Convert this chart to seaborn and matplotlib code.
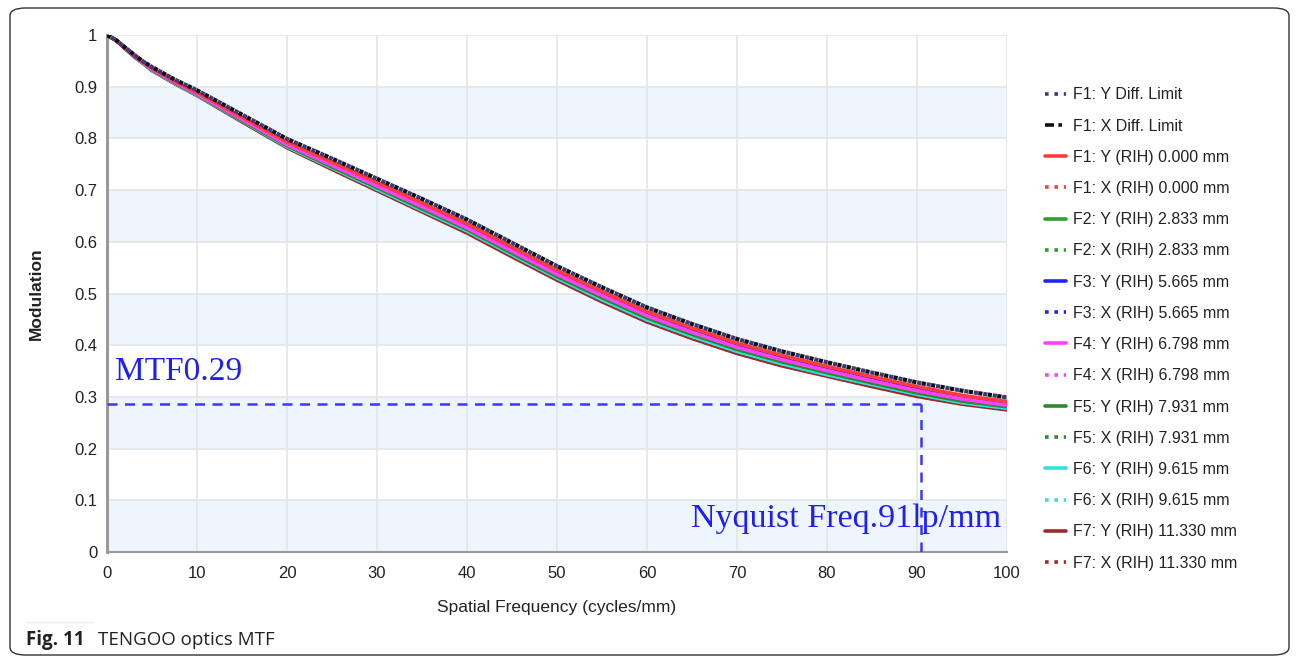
import matplotlib
matplotlib.use("Agg")
import matplotlib.pyplot as plt
import seaborn as sns
import pandas as pd
from matplotlib.patches import FancyBboxPatch
from matplotlib.lines import Line2D

# ---------------- data ----------------
freq = [0, 1, 2, 3, 4, 5, 7.5, 10, 15, 20, 25, 30, 35, 40, 45, 50, 55, 60, 65, 70, 75, 80, 85, 90, 95, 100]
diff_limit = [1.000, 0.990, 0.976, 0.962, 0.949, 0.938, 0.914, 0.893, 0.846, 0.799, 0.761, 0.722, 0.683, 0.643,
              0.598, 0.553, 0.512, 0.473, 0.441, 0.412, 0.388, 0.367, 0.347, 0.328, 0.312, 0.299]
f1 = [1.000, 0.990, 0.975, 0.961, 0.948, 0.936, 0.911, 0.889, 0.841, 0.793, 0.754, 0.715, 0.675, 0.635,
      0.590, 0.545, 0.504, 0.465, 0.433, 0.404, 0.380, 0.359, 0.339, 0.320, 0.303, 0.291]
f2 = [1.000, 0.990, 0.975, 0.960, 0.947, 0.935, 0.910, 0.888, 0.839, 0.791, 0.751, 0.712, 0.672, 0.632,
      0.587, 0.542, 0.501, 0.462, 0.430, 0.401, 0.377, 0.356, 0.336, 0.317, 0.300, 0.288]
f3 = [1.000, 0.990, 0.975, 0.960, 0.947, 0.935, 0.909, 0.887, 0.838, 0.789, 0.749, 0.710, 0.670, 0.629,
      0.584, 0.539, 0.498, 0.459, 0.427, 0.398, 0.374, 0.353, 0.333, 0.314, 0.298, 0.286]
f4 = [1.000, 0.990, 0.975, 0.960, 0.946, 0.934, 0.909, 0.886, 0.837, 0.788, 0.748, 0.708, 0.668, 0.627,
      0.582, 0.537, 0.496, 0.457, 0.425, 0.396, 0.372, 0.351, 0.331, 0.312, 0.296, 0.284]
f5 = [1.000, 0.990, 0.974, 0.959, 0.946, 0.933, 0.908, 0.885, 0.835, 0.786, 0.745, 0.705, 0.664, 0.624,
      0.578, 0.533, 0.492, 0.453, 0.421, 0.392, 0.368, 0.347, 0.327, 0.308, 0.292, 0.281]
f6 = [1.000, 0.990, 0.974, 0.959, 0.945, 0.932, 0.907, 0.884, 0.834, 0.784, 0.743, 0.702, 0.661, 0.621,
      0.575, 0.530, 0.488, 0.449, 0.417, 0.388, 0.364, 0.343, 0.324, 0.305, 0.289, 0.278]
f7 = [1.000, 0.990, 0.974, 0.958, 0.945, 0.931, 0.906, 0.883, 0.832, 0.782, 0.740, 0.699, 0.658, 0.617,
      0.571, 0.526, 0.484, 0.445, 0.413, 0.384, 0.360, 0.340, 0.320, 0.301, 0.286, 0.275]

series_labels = ["F1: Y Diff. Limit", "F1: X Diff. Limit",
                 "F1: Y (RIH) 0.000 mm", "F1: X (RIH) 0.000 mm",
                 "F2: Y (RIH) 2.833 mm", "F2: X (RIH) 2.833 mm",
                 "F3: Y (RIH) 5.665 mm", "F3: X (RIH) 5.665 mm",
                 "F4: Y (RIH) 6.798 mm", "F4: X (RIH) 6.798 mm",
                 "F5: Y (RIH) 7.931 mm", "F5: X (RIH) 7.931 mm",
                 "F6: Y (RIH) 9.615 mm", "F6: X (RIH) 9.615 mm",
                 "F7: Y (RIH) 11.330 mm", "F7: X (RIH) 11.330 mm"]
series_values = [diff_limit, diff_limit, f1, f1, f2, f2, f3, f3, f4, f4, f5, f5, f6, f6, f7, f7]

mtf_value = 0.286
nyquist = 90.5
x_ticks = [0, 10, 20, 30, 40, 50, 60, 70, 80, 90, 100]
y_ticks = [0, 0.1, 0.2, 0.3, 0.4, 0.5, 0.6, 0.7, 0.8, 0.9, 1]
y_tick_labels = ["0", "0.1", "0.2", "0.3", "0.4", "0.5", "0.6", "0.7", "0.8", "0.9", "1"]

# ---------------- styles ----------------
colors = ["#3a3a7a", "#111111", "#ff3b3b", "#ff3b3b", "#2e9e2e", "#2e9e2e", "#2222ee", "#2222ee",
          "#ff40ff", "#ff40ff", "#2a8a2a", "#2a8a2a", "#30e0e0", "#30e0e0", "#9b2b2b", "#9b2b2b"]
dot = (0, (1.0, 1.3))
styles = [(1.1, (1.0, 1.3)), (0, (1.0, 1.3)), "-", dot, "-", dot, "-", dot,
          "-", dot, "-", dot, "-", dot, "-", dot]
legend_styles = [(0, (1.0, 1.6)), (0, (2.5, 1.2, 1.0, 1.2)), "-", (0, (1.0, 1.6)), "-", (0, (1.0, 1.6)),
                 "-", (0, (1.0, 1.6)), "-", (0, (1.0, 1.6)), "-", (0, (1.0, 1.6)), "-", (0, (1.0, 1.6)),
                 "-", (0, (1.0, 1.6))]

sns.set_theme(style="white")
plt.rcParams['font.family'] = ['Liberation Sans', 'DejaVu Sans']

fig = plt.figure(figsize=(12.96, 6.65), dpi=100)
ax = fig.add_axes([107 / 1296, 1 - 552 / 665, 900 / 1296, 517 / 665])

# background bands
for lo in [0.0, 0.2, 0.4, 0.6, 0.8]:
    ax.axhspan(lo, lo + 0.1, color="#eef5fc", zorder=0, lw=0)
for yv in y_ticks[1:]:
    ax.axhline(yv, color="#e2e6ea", lw=1.2, zorder=0.5)
for xv in x_ticks[1:]:
    ax.axvline(xv, color="#e2e6ea", lw=1.2, zorder=0.5)

# draw lower curves first so diffraction limit & F1 stay on top
order = [15, 14, 13, 12, 11, 10, 5, 4, 7, 6, 9, 8, 3, 2, 1, 0]
for k, i in enumerate(order):
    df = pd.DataFrame({"freq": freq, "mod": series_values[i]})
    if i < 2:
        lw = 3.0
    elif styles[i] == "-":
        lw = 2.6
    else:
        lw = 2.2
    sns.lineplot(data=df, x="freq", y="mod", ax=ax, color=colors[i], linestyle=styles[i],
                 lw=lw, zorder=3 + k * 0.01, legend=False)

# legend in the reference order
handles = [Line2D([], [], color=colors[i], linestyle=legend_styles[i], lw=2.6) for i in range(16)]
leg = fig.legend(handles, series_labels, loc="upper left", bbox_to_anchor=(1039 / 1296, 1 - 81 / 665),
                 frameon=False, fontsize=11.5, handlelength=1.3, handletextpad=0.45,
                 labelspacing=1.015, borderaxespad=0)
for t in leg.get_texts():
    t.set_color("#222222")

# MTF / Nyquist annotations
ax.plot([0, nyquist], [mtf_value, mtf_value], color="#3a3aee", lw=1.8, ls=(0, (4, 3)), zorder=5)
ax.plot([nyquist, nyquist], [0, mtf_value], color="#3a3aee", lw=1.8, ls=(0, (4, 3)), zorder=5)
ax.text(0.9, 0.348, "MTF0.29", color="#2020ee", fontsize=24, family="Liberation Serif",
        va="center", ha="left", zorder=6)
ax.text(99.4, 0.064, "Nyquist Freq.91lp/mm", color="#2020ee", fontsize=24.5, family="Liberation Serif",
        va="center", ha="right", zorder=6)

ax.set_xlim(0, 100)
ax.set_ylim(0, 1)
ax.set_xticks(x_ticks)
ax.set_yticks(y_ticks)
ax.set_yticklabels(y_tick_labels)
ax.tick_params(axis="both", which="both", length=4, width=1, color="#999999", direction="out",
               labelsize=12, labelcolor="#222222", pad=6)
ax.tick_params(axis="y", pad=3)
for s in ["top", "right"]:
    ax.spines[s].set_visible(False)
ax.spines["left"].set_color("#999999")
ax.spines["left"].set_linewidth(2.2)
ax.spines["bottom"].set_color("#999999")
ax.spines["bottom"].set_linewidth(1.5)
ax.set_xlabel("Spatial Frequency (cycles/mm)", fontsize=12.5, color="#222222", labelpad=14)
ax.set_ylabel("Modulation", fontsize=12.5, color="#222222", fontweight="bold", labelpad=22)

# outer rounded frame and caption
frame = FancyBboxPatch((10 / 1296, 10 / 665), 1279 / 1296, 647 / 665,
                       boxstyle="round,pad=0,rounding_size=0.012", transform=fig.transFigure,
                       fill=False, edgecolor="#333333", lw=1.0, zorder=-1)
fig.patches.append(frame)
fig.add_artist(Line2D([26 / 1296, 92 / 1296], [1 - 622 / 665, 1 - 622 / 665], color="#eeeeee", lw=1,
                      transform=fig.transFigure))
fig.text(26 / 1296, 1 - 645 / 665, "Fig. 11", fontsize=13.5, fontweight="bold", family="Open Sans",
         va="baseline", ha="left", color="#222222")
fig.text(98 / 1296, 1 - 645 / 665, "TENGOO optics MTF", fontsize=13.5, family="Open Sans",
         va="baseline", ha="left", color="#222222")

fig.savefig("out.png", dpi=100)
